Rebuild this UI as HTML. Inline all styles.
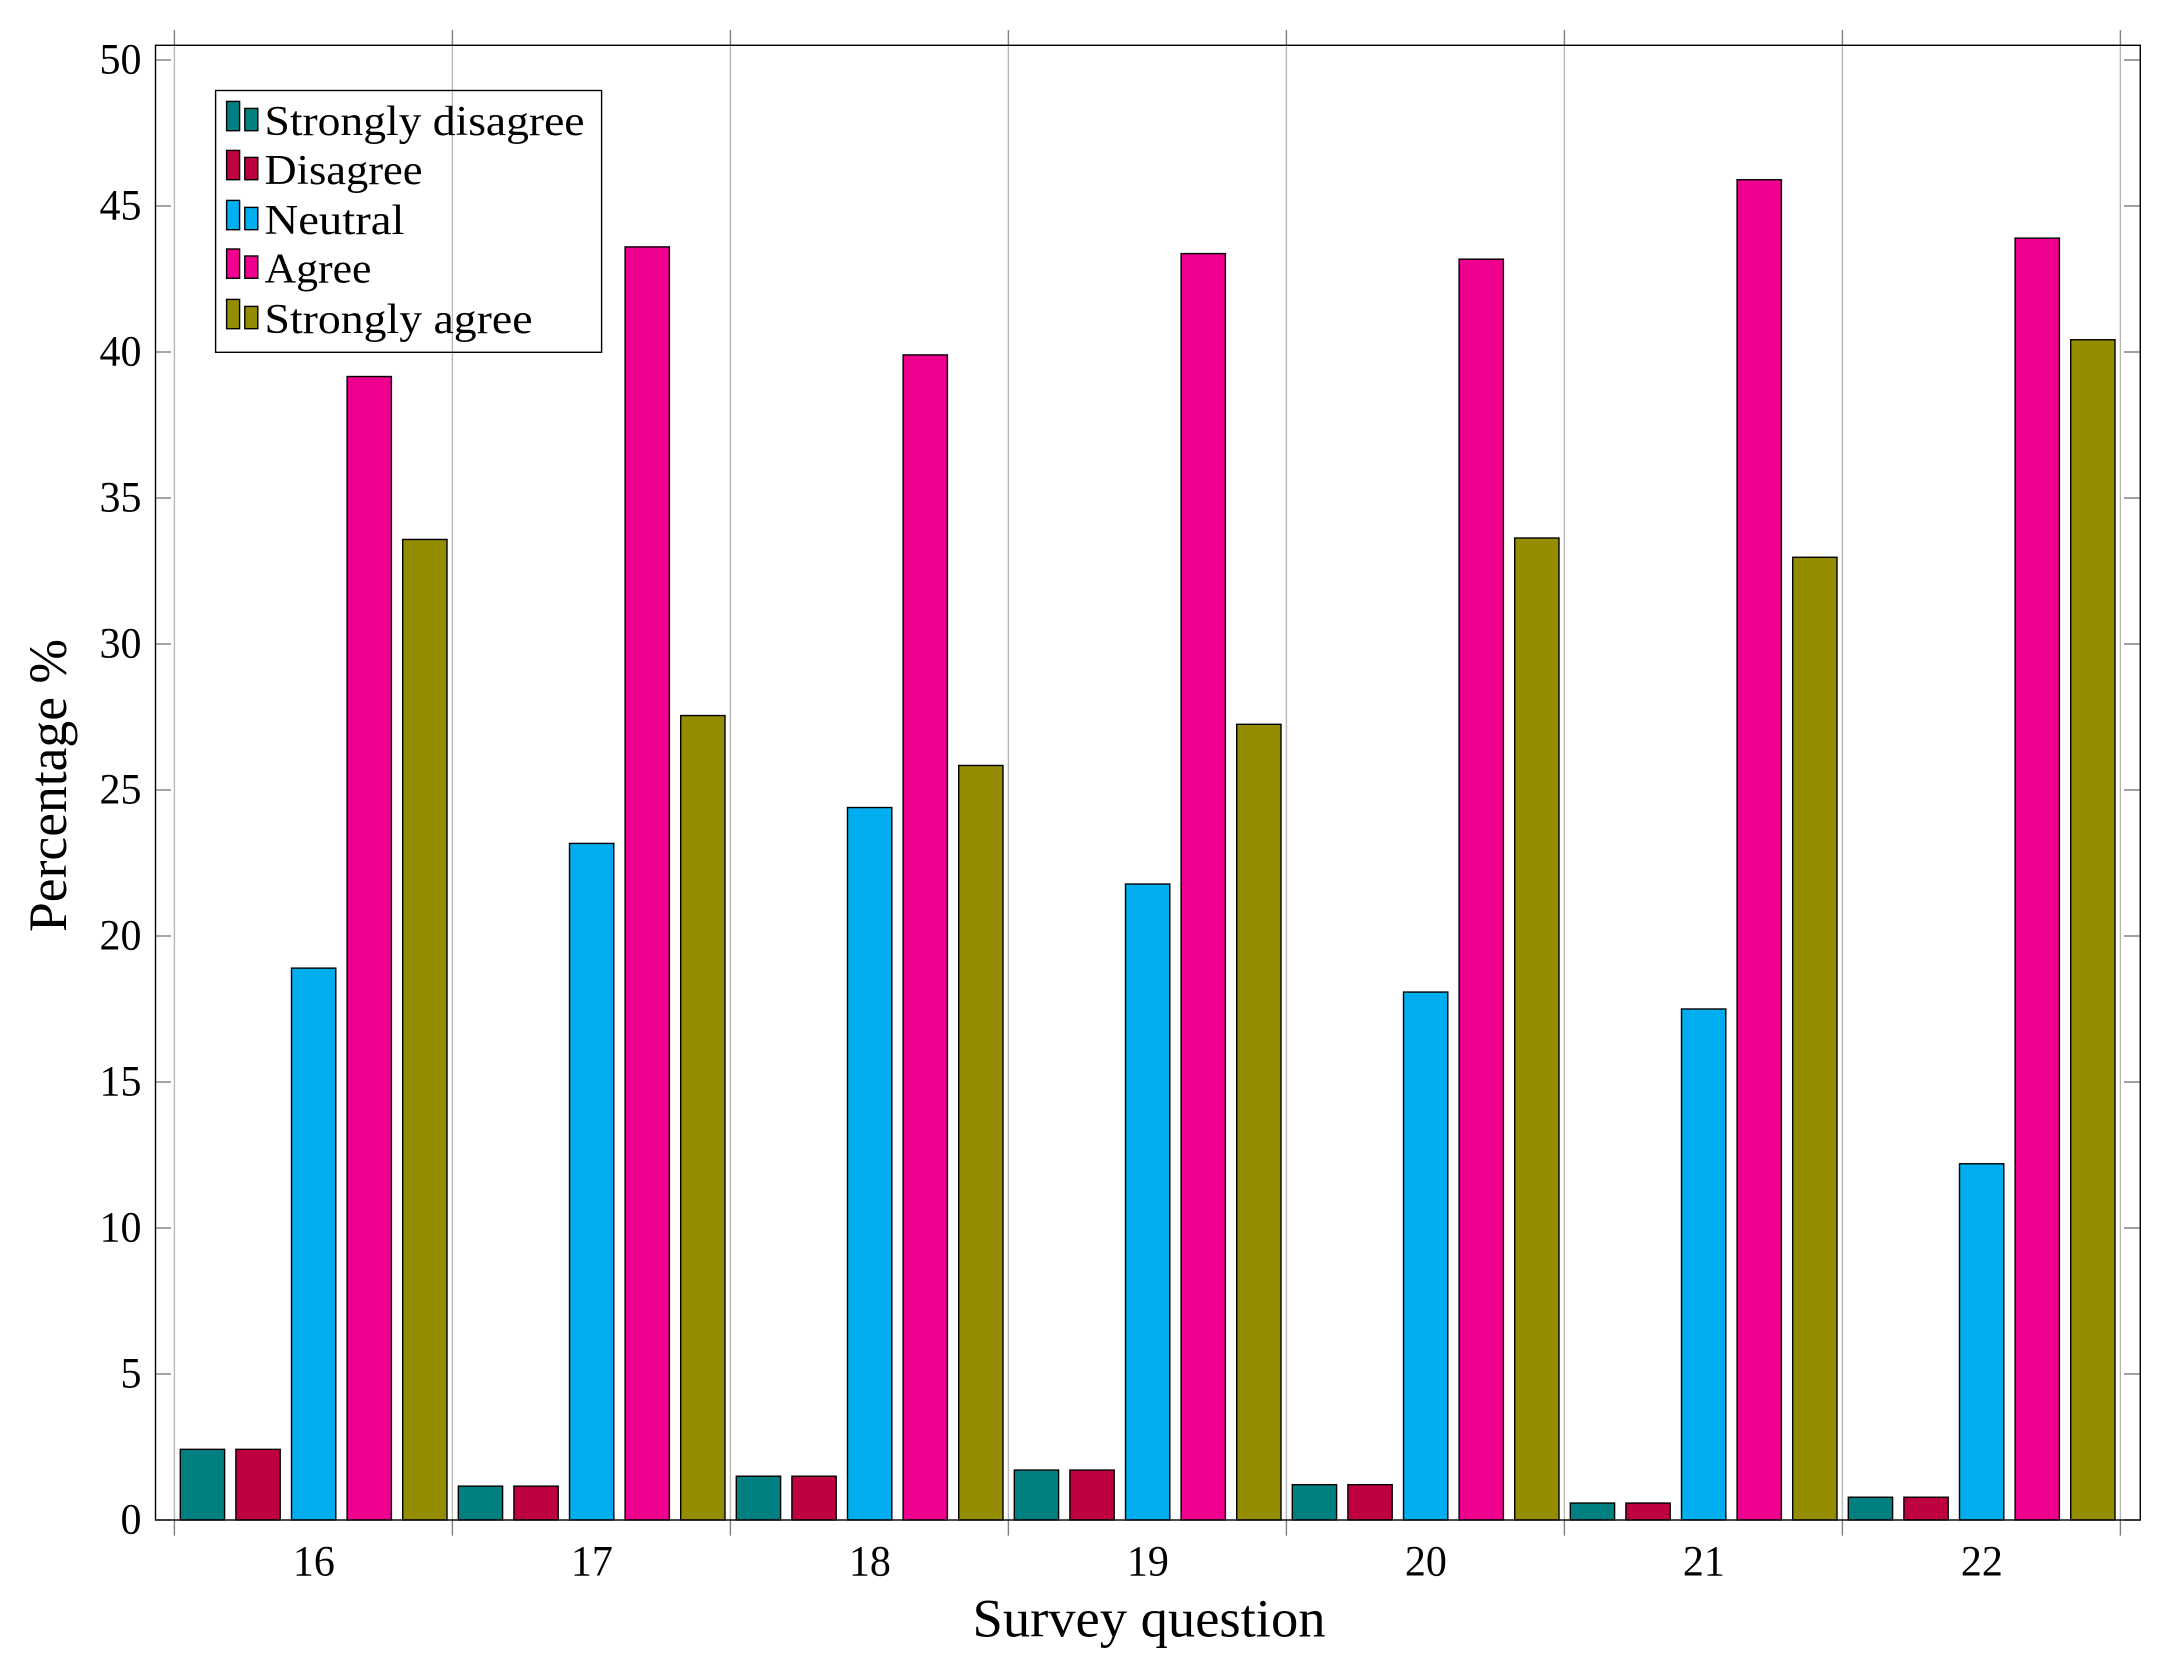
<!DOCTYPE html>
<html lang="en">
<head>
<meta charset="utf-8">
<title>Survey question responses</title>
<style>
html,body{margin:0;padding:0;background:#fff;}
svg{display:block;}
text{font-family:"Liberation Serif",serif;fill:#000;}
</style>
</head>
<body>
<svg id="chart" xmlns="http://www.w3.org/2000/svg" width="2171" height="1670" viewBox="0 0 2171 1670">
<rect x="0" y="0" width="2171" height="1670" fill="#fff"/>
</svg>
<script>
const questions = ["16","17","18","19","20","21","22"];
const stronglyDisagree = [2.42,1.16,1.5,1.71,1.21,0.58,0.78];
const disagree = [2.42,1.16,1.5,1.71,1.21,0.58,0.78];
const neutral = [18.9,23.17,24.4,21.78,18.08,17.5,12.2];
const agree = [39.16,43.6,39.9,43.37,43.18,45.9,43.9];
const stronglyAgree = [33.58,27.55,25.84,27.25,33.63,32.97,40.42];
const yTicks = [0,5,10,15,20,25,30,35,40,45,50];
const seriesNames = ["Strongly disagree","Disagree","Neutral","Agree","Strongly agree"];
const seriesValues = [stronglyDisagree,disagree,neutral,agree,stronglyAgree];

const svg = document.getElementById('chart');
const NS = 'http://www.w3.org/2000/svg';
const seriesColors = ['#008080','#bf0040','#00aeef','#f0008f','#958d00'];
const seriesKeys = ['strongly-disagree','disagree','neutral','agree','strongly-agree'];
const legendWidths = [320,158,140,107,268];
const legendTop = 90.5;
const legendRowBottoms = [130.7,179.7,229.7,278.3,328.7];

const plot = {left:155.5,right:2140.3,top:45.3,bottom:1520};
function yScale(v){ return 1520 - v*29.2; }
function xEdge(i){ return 174.4 + i*278; }
function xCenter(i){ return xEdge(i) + 139; }
function xBar(i,s){ return xCenter(i) + (s-2)*55.6; }

function make(tag,attrs,parent){
  const el = document.createElementNS(NS,tag);
  for(const k in attrs){ el.setAttribute(k,attrs[k]); }
  (parent||svg).appendChild(el);
  return el;
}

// grid lines and x ticks
for(let i=0;i<=questions.length;i++){
  const x = xEdge(i);
  const g = make('line',{x1:x,x2:x,y1:plot.top,y2:plot.bottom,stroke:'#b8b8b8','stroke-width':1.4});
  
  
  const t1 = make('line',{x1:x,x2:x,y1:plot.bottom,y2:1535.7,stroke:'#808080','stroke-width':1.4});
  
  
  const t2 = make('line',{x1:x,x2:x,y1:plot.top,y2:30,stroke:'#808080','stroke-width':1.4});
  
  
}

// y ticks and labels
yTicks.forEach(function(v){
  const y = yScale(v);
  const a = make('line',{x1:plot.left,x2:171,y1:y,y2:y,stroke:'#808080','stroke-width':1.4});
  
  
  const b = make('line',{x1:2124,x2:plot.right,y1:y,y2:y,stroke:'#808080','stroke-width':1.4});
  
  
  const s = String(v);
  const t = make('text',{x:141.5,y:y+13.3,'text-anchor':'end','font-size':43,textLength:s.length*21,lengthAdjust:'spacingAndGlyphs'});
  
  
  t.textContent = s;
});

// x labels
questions.forEach(function(q,i){
  const t = make('text',{x:xCenter(i)+0.5,y:1575.7,'text-anchor':'middle','font-size':43,textLength:42,lengthAdjust:'spacingAndGlyphs'});
  
  
  t.textContent = q;
});

// bars
seriesValues.forEach(function(vals,s){
  vals.forEach(function(v,i){
    const y = yScale(v);
    const r = make('rect',{x:xBar(i,s)-21.9,y:y,width:44.3,height:plot.bottom-y,fill:seriesColors[s],stroke:'#000','stroke-width':1.4});
    
    
  });
});

// axis frame
const frame = make('rect',{x:plot.left,y:plot.top,width:plot.right-plot.left,height:plot.bottom-plot.top,fill:'none',stroke:'#000','stroke-width':1.4});



// legend
const legend = make('g',{});


const lbox = make('rect',{x:215.6,y:legendTop,width:386,height:261.8,fill:'none',stroke:'#000','stroke-width':1.4},legend);


seriesNames.forEach(function(name,s){
  const b = legendRowBottoms[s];
  const entry = make('g',{},legend);
  
  
  const p1 = make('rect',{x:226.6,y:b-29.3,width:13,height:29.3,fill:seriesColors[s],stroke:'#000','stroke-width':1.4},entry);
  
  
  const p2 = make('rect',{x:244.8,y:b-22.3,width:13,height:22.3,fill:seriesColors[s],stroke:'#000','stroke-width':1.4},entry);
  
  
  const t = make('text',{x:264.5,y:b+4.2,'font-size':42,textLength:legendWidths[s],lengthAdjust:'spacingAndGlyphs'},entry);
  
  
  t.textContent = name;
});

// axis titles
const xt = make('text',{x:972.5,y:1636.5,'font-size':54,textLength:353,lengthAdjust:'spacingAndGlyphs'});


xt.textContent = 'Survey question';
const yt = make('text',{x:0,y:0,'font-size':54,textLength:293,lengthAdjust:'spacingAndGlyphs',transform:'translate(66,932) rotate(-90)'});


yt.textContent = 'Percentage %';
</script>
</body>
</html>
